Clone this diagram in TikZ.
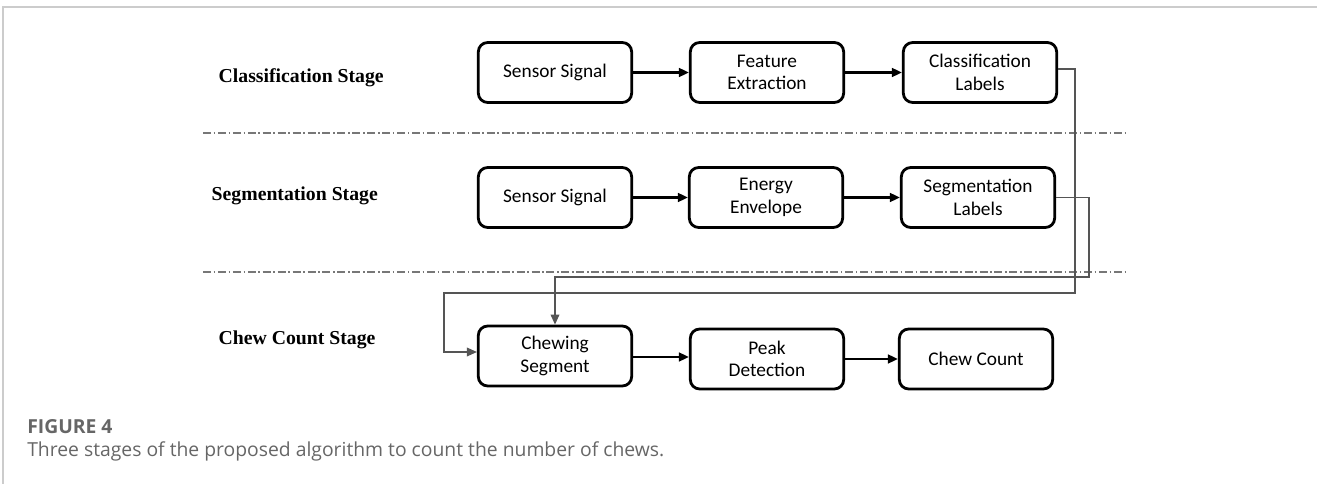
\documentclass[tikz,border=0pt]{standalone}
\usepackage{fontspec}
\usepackage{xcolor}
\usepackage{tikz}
\usetikzlibrary{positioning, arrows.meta}
\setmainfont{Liberation Serif}
\newfontfamily\boxfont{Carlito}
\newfontfamily\capfont{Open Sans}

\definecolor{framegray}{HTML}{CCCCCC}
\definecolor{retgray}{HTML}{555555}
\definecolor{dashgray}{HTML}{777777}
\definecolor{capgray}{HTML}{666666}

\tikzset{
  stepbox/.style={draw=black, line width=2.1pt, rounded corners=7pt, fill=white,
    minimum width=115pt, minimum height=45pt, align=center, inner sep=2pt,
    font=\boxfont\fontsize{14.5}{17}\selectfont},
  stagelabel/.style={anchor=west, font=\bfseries\fontsize{14.8}{17}\selectfont},
  flow/.style={-{Triangle[length=7.5pt, width=6.5pt]}, line width=1.9pt},
  ret/.style={-{Triangle[length=7.5pt, width=6.5pt]}, draw=retgray, line width=1pt},
  divider/.style={draw=dashgray, line width=0.9pt, dash pattern=on 6pt off 2pt on 1.2pt off 2pt}
}

\begin{document}
\begin{tikzpicture}[x=0.75pt, y=-0.75pt]
    \useasboundingbox (0,0) rectangle (1317,484);

    % 0. frame
    \draw[framegray, line width=1.1pt] (3,484) -- (3,7) -- (1317,7);

    % 1. stage labels
    \node[stagelabel] (lab1) at (214, 78) {Classification Stage};
    \node[stagelabel] (lab2) at (207, 196) {Segmentation Stage};
    \node[stagelabel] (lab3) at (214, 340) {Chew Count Stage};

    % divider lines
    \draw[divider] (203,133) -- (1128,133);
    \draw[divider] (203,272) -- (1128,272);

    % 2. classification row
    \node[stepbox] (sig1) at (555, 72.5) {Sensor Signal};
    \node[stepbox] (feat) at (767, 72.5) {Feature\\Extraction};
    \node[stepbox] (clab) at (980, 72.5) {Classification\\Labels};

    \draw[flow] (sig1) -- (feat);
    \draw[flow] (feat) -- (clab);

    % 3. segmentation row
    \node[stepbox] (sig2) at (555, 197.5) {Sensor Signal};
    \node[stepbox] (env)  at (766, 197.5) {Energy\\Envelope};
    \node[stepbox] (slab) at (978, 197.5) {Segmentation\\Labels};

    \draw[flow] (sig2) -- (env);
    \draw[flow] (env) -- (slab);

    % 4. chew count row
    \node[stepbox] (seg)  at (555, 356) {Chewing\\Segment};
    \node[stepbox] (peak) at (767, 359) {Peak\\Detection};
    \node[stepbox] (cnt)  at (976, 359) {Chew Count};

    \draw[flow] (seg.east |- 0,357) -- (peak.west |- 0,357);
    \draw[flow] (peak) -- (cnt);

    % labels fed back into the chewing segment
    \draw[ret] ([yshift=2.5pt]clab.east) -| (1075,293) -| (444,352) -- (seg.west |- 0,352);
    \draw[ret] (slab.east) -| (1089,277) -| (seg.north);

    % 5. caption
    \node[anchor=west, inner sep=0pt, text=capgray, font=\capfont\bfseries\fontsize{14.5}{17}\selectfont] (fig) at (27,427) {FIGURE 4};
    \node[anchor=west, inner sep=0pt, text=capgray, font=\capfont\fontsize{14.5}{17}\selectfont] (cap) at (27,451) {Three stages of the proposed algorithm to count the number of chews.};

\end{tikzpicture}
\end{document}
